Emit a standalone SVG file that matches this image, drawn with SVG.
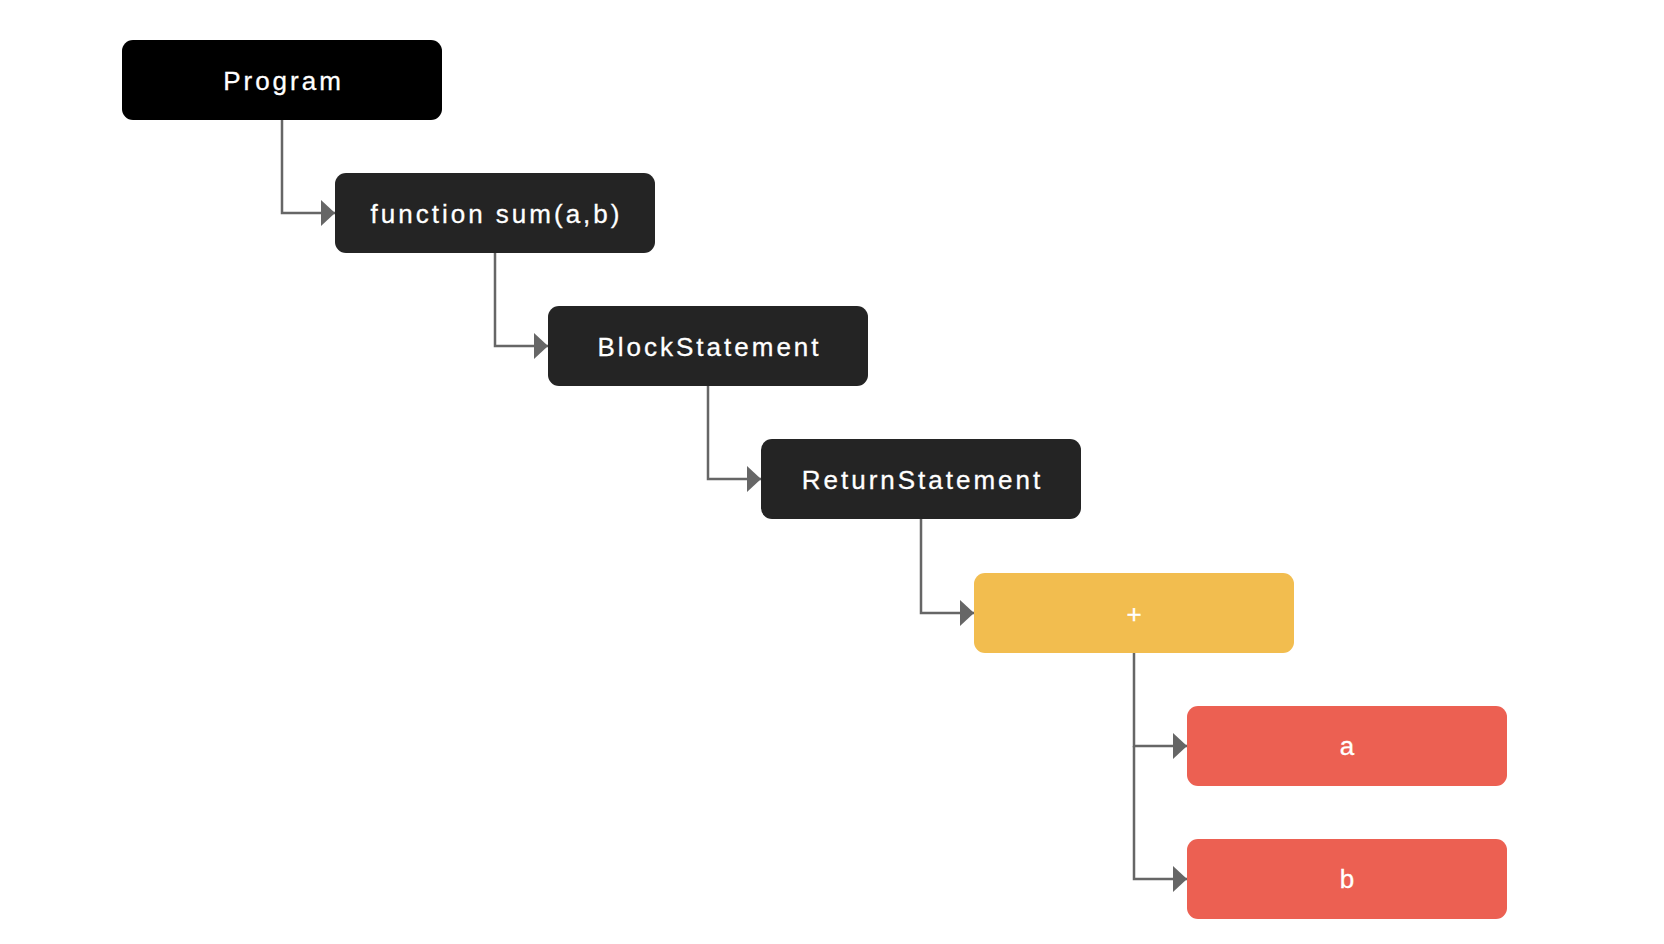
<svg xmlns="http://www.w3.org/2000/svg" width="1664" height="944" viewBox="0 0 1664 944">
<style>
.box{stroke:none}
.dark{fill:#242424}
.black{fill:#000}
.yellow{fill:#F2BD4F}
.red{fill:#EC6052}
.lbl{font-family:"Liberation Sans",Arial,sans-serif;font-size:26px;fill:#fff;stroke:#fff;stroke-width:0.3;text-anchor:middle;letter-spacing:3px}
.plain{font-family:"Liberation Sans",Arial,sans-serif;font-size:26px;fill:#fff;stroke:#fff;stroke-width:0.3;text-anchor:middle}
.conn{fill:none;stroke:#666;stroke-width:2.5}
</style>
<defs>
<marker id="arr" markerWidth="14" markerHeight="26" refX="14" refY="13" orient="auto" markerUnits="userSpaceOnUse">
<path d="M0,0 L14,13 L0,26 Z" fill="#666"/>
</marker>
</defs>
<rect width="1664" height="944" fill="#fff"/>
<g id="connectors">
<path class="conn" d="M282,120 V213 H335" marker-end="url(#arr)"/>
<path class="conn" d="M495,253 V346 H548" marker-end="url(#arr)"/>
<path class="conn" d="M708,386 V479 H761" marker-end="url(#arr)"/>
<path class="conn" d="M921,519 V613 H974" marker-end="url(#arr)"/>
<path class="conn" d="M1134,653 V746 H1187" marker-end="url(#arr)"/>
<path class="conn" d="M1134,746 V879 H1187" marker-end="url(#arr)"/>
</g>
<g id="program">
<rect class="box black" x="122" y="40" width="320" height="80" rx="11"/>
<text class="lbl" x="283.5" y="90">Program</text>
</g>
<g id="function">
<rect class="box dark" x="335" y="173" width="320" height="80" rx="11"/>
<text class="lbl" x="496.5" y="223">function sum(a,b)</text>
</g>
<g id="block">
<rect class="box dark" x="548" y="306" width="320" height="80" rx="11"/>
<text class="lbl" x="709.5" y="356">BlockStatement</text>
</g>
<g id="return">
<rect class="box dark" x="761" y="439" width="320" height="80" rx="11"/>
<text class="lbl" x="922.5" y="489">ReturnStatement</text>
</g>
<g id="plus">
<rect class="box yellow" x="974" y="573" width="320" height="80" rx="11"/>
<text class="plain" x="1134" y="623" style="font-size:26px">+</text>
</g>
<g id="a">
<rect class="box red" x="1187" y="706" width="320" height="80" rx="11"/>
<text class="plain" x="1347" y="755">a</text>
</g>
<g id="b">
<rect class="box red" x="1187" y="839" width="320" height="80" rx="11"/>
<text class="plain" x="1347" y="888">b</text>
</g>
</svg>
